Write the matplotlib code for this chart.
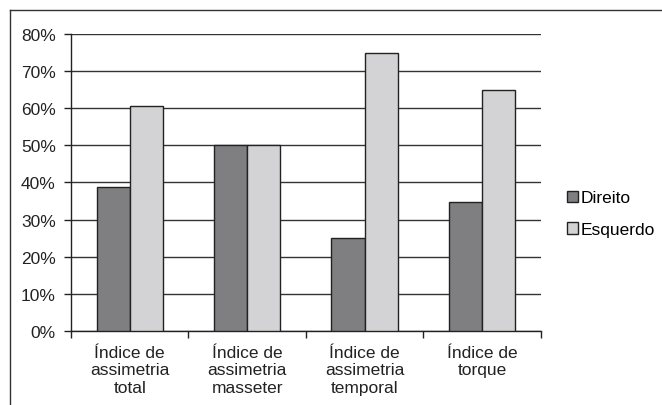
import matplotlib
matplotlib.use("Agg")
import numpy as np
from matplotlib import pyplot as plt
from matplotlib.lines import Line2D
from matplotlib.ticker import PercentFormatter

plt.rcParams["font.family"] = ["Liberation Sans", "DejaVu Sans"]
plt.rcParams["font.size"] = 12.5

categories = [
    "Índice de\nassimetria\ntotal",
    "Índice de\nassimetria\nmasseter",
    "Índice de\nassimetria\ntemporal",
    "Índice de\ntorque",
]
direito = [38.7, 50.0, 25.0, 34.8]
esquerdo = [60.7, 50.0, 75.0, 65.0]
y_ticks = [0, 10, 20, 30, 40, 50, 60, 70, 80]

fig = plt.figure(figsize=(6.62, 4.06), dpi=100)
ax = fig.add_axes([0.1073, 0.1823, 0.7095, 0.7315])

# outer frame (only top and left edges visible)
fig.add_artist(Line2D([0.0151, 0.0151], [0.0, 0.973], color="#333333", lw=1.0,
                      transform=fig.transFigure))
fig.add_artist(Line2D([0.0151, 1.0], [0.973, 0.973], color="#333333", lw=1.0,
                      transform=fig.transFigure))

x = np.arange(len(categories))
w = 0.282
ax.bar(x - w / 2, direito, w, color="#7f7f82", edgecolor="#222222", lw=1.0,
       label="Direito", zorder=3)
ax.bar(x + w / 2, esquerdo, w, color="#d3d3d5", edgecolor="#222222", lw=1.0,
       label="Esquerdo", zorder=3)

ax.set_xlim(-0.5, len(categories) - 0.5)
ax.set_ylim(0, 80)
ax.set_yticks(y_ticks)
ax.yaxis.set_major_formatter(PercentFormatter(decimals=0))
ax.yaxis.grid(True, color="#333333", lw=1.0, zorder=0)
ax.set_axisbelow(True)

ax.set_xticks(x)
ax.set_xticklabels(categories, linespacing=1.2)
ax.set_xticks(np.arange(len(categories) + 1) - 0.5, minor=True)
ax.tick_params(axis="x", which="major", length=0, pad=10)
ax.tick_params(axis="x", which="minor", length=5, width=1, color="#222222",
               direction="out")
ax.tick_params(axis="y", length=5, width=1, color="#222222", pad=6)
ax.tick_params(colors="#222222", labelcolor="#222222")

for side in ("top", "right"):
    ax.spines[side].set_visible(False)
for side in ("left", "bottom"):
    ax.spines[side].set_color("#222222")
    ax.spines[side].set_linewidth(1.0)

ax.legend(loc="center left", bbox_to_anchor=(1.041, 0.395), frameon=False,
          handlelength=0.65, handleheight=0.65, handletextpad=0.12,
          labelspacing=0.95, borderaxespad=0)

fig.savefig("out.png", dpi=100, facecolor="white")
